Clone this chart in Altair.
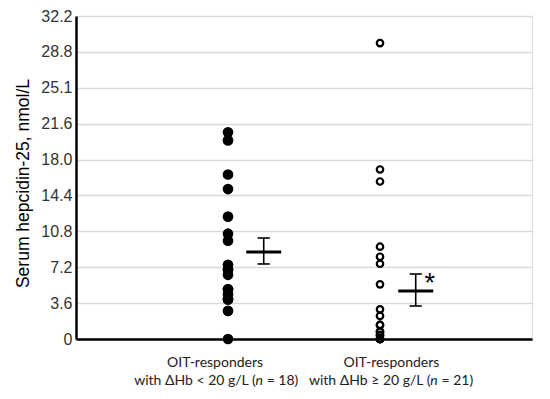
import altair as alt
import pandas as pd

# ---- data ----
group_names = ["OIT-responders with ΔHb < 20 g/L", "OIT-responders with ΔHb ≥ 20 g/L"]
group_pos = [1, 2]
g1_values = [20.6, 19.8, 16.4, 14.95, 12.2, 10.5, 9.8, 7.4, 6.9, 6.9, 6.4,
             4.95, 4.95, 4.45, 3.95, 3.95, 2.8, 0.0]
g2_values = [29.5, 16.9, 15.7, 9.2, 8.2, 7.5, 5.45, 2.96, 2.3, 1.4, 1.4,
             0.73, 0.73, 0.4, 0.4, 0.0, 0.0, 0.0, 0.0, 0.0, 0.0]
group_means = [8.67, 4.79]
err_low = [7.48, 3.29]
err_high = [10.07, 6.48]
y_tick_labels = ["0", "3.6", "7.2", "10.8", "14.4", "18.0", "21.6", "25.1", "28.8", "32.2"]
y_max = 32.2
line1_labels = ["OIT-responders", "OIT-responders"]
line2_left = ["with ΔHb < 20 g/L (", "with ΔHb ≥ 20 g/L ("]
line2_n = ["n", "n"]
line2_right = ["= 18)", "= 21)"]
significance = ["", "*"]

# ---- tables ----
pts1 = pd.DataFrame({"x": group_pos[0], "value": g1_values})
pts2 = pd.DataFrame({"x": group_pos[1], "value": g2_values})

mean_shift = 0.235
half_bar = 0.115
half_cap = 0.04
summ = pd.DataFrame({
    "xc": [p + mean_shift for p in group_pos],
    "mean": group_means, "lo": err_low, "hi": err_high, "sig": significance,
    "l1": line1_labels, "l2a": line2_left, "l2n": line2_n, "l2b": line2_right,
    "xn": [1.205, 2.355], "xl1": [0.915, 2.075],
})
summ["x_left"] = summ["xc"] - half_bar
summ["x_right"] = summ["xc"] + half_bar
summ["cap_l"] = summ["xc"] - half_cap
summ["cap_r"] = summ["xc"] + half_cap

n_ticks = len(y_tick_labels)
tick_vals = [y_max * i / (n_ticks - 1) for i in range(n_ticks)]
label_expr = "[" + ",".join(f"'{t}'" for t in y_tick_labels) + f"][round(datum.value*{n_ticks-1}/{y_max})]"

xscale = alt.Scale(domain=[0, 3], nice=False, zero=False)
yscale = alt.Scale(domain=[0, y_max], nice=False, zero=True)
yaxis = alt.Axis(values=tick_vals, labelExpr=label_expr, title="Serum hepcidin-25, nmol/L",
                 grid=True, gridColor="#d9d9d9", gridWidth=1.5, ticks=False,
                 domainColor="black", domainWidth=2.5, labelFontSize=16,
                 labelFont="Liberation Sans", labelColor="#333", labelPadding=4,
                 titleFont="Liberation Sans", titleFontSize=17.5, titleFontWeight="normal",
                 titleColor="black", titlePadding=8, titleY=167)
xaxis = alt.Axis(labels=False, ticks=False, grid=False, title=None,
                 domainColor="black", domainWidth=2.5)


def X(field):
    return alt.X(field, type="quantitative", scale=xscale, axis=xaxis)


def Y(field):
    return alt.Y(field, type="quantitative", scale=yscale, axis=yaxis)


p1 = alt.Chart(pts1).mark_circle(color="black", opacity=1, size=115).encode(x=X("x"), y=Y("value"))
p2 = alt.Chart(pts2).mark_point(shape="circle", filled=False, color="black", strokeWidth=2.2,
                                size=42, opacity=1).encode(x=X("x"), y=Y("value"))

base = alt.Chart(summ)
mean_bar = base.mark_rule(color="black", strokeWidth=3).encode(x=X("x_left"), x2="x_right", y=Y("mean"))
err_v = base.mark_rule(color="black", strokeWidth=1.6).encode(x=X("xc"), y=Y("lo"), y2="hi")
cap_lo = base.mark_rule(color="black", strokeWidth=1.6).encode(x=X("cap_l"), x2="cap_r", y=Y("lo"))
cap_hi = base.mark_rule(color="black", strokeWidth=1.6).encode(x=X("cap_l"), x2="cap_r", y=Y("hi"))
star = base.mark_text(fontSize=27, font="Liberation Sans", color="black", dx=14, dy=10,
                      baseline="middle").encode(x=X("xc"), y=Y("hi"), text="sig:N")

lab_font = "Lato"
lab_size = 14
ydat = alt.Y(datum=0, scale=yscale, axis=yaxis)
lab1 = base.mark_text(font=lab_font, fontSize=lab_size, color="#222", baseline="middle",
                      align="center", dy=24).encode(x=X("xl1"), y=ydat, text="l1:N")
lab2a = base.mark_text(font=lab_font, fontSize=lab_size, color="#222", baseline="middle",
                       align="right", dy=42, dx=-3.5).encode(x=X("xn"), y=ydat, text="l2a:N")
lab2n = base.mark_text(font=lab_font, fontSize=lab_size, color="#222", baseline="middle",
                       align="center", dy=42, fontStyle="italic").encode(x=X("xn"), y=ydat, text="l2n:N")
lab2b = base.mark_text(font=lab_font, fontSize=lab_size, color="#222", baseline="middle",
                       align="left", dy=42, dx=7.5).encode(x=X("xn"), y=ydat, text="l2b:N")

chart = alt.layer(p1, p2, mean_bar, err_v, cap_lo, cap_hi, star, lab1, lab2a, lab2n, lab2b).properties(
    width=456, height=323,
    autosize=alt.AutoSizeParams(type="none"),
    padding={"left": 68, "top": 8, "right": 10, "bottom": 50},
).configure_view(stroke=None).configure(background="white")

chart.save("out.html", embed_options={"renderer": "svg", "actions": False})
